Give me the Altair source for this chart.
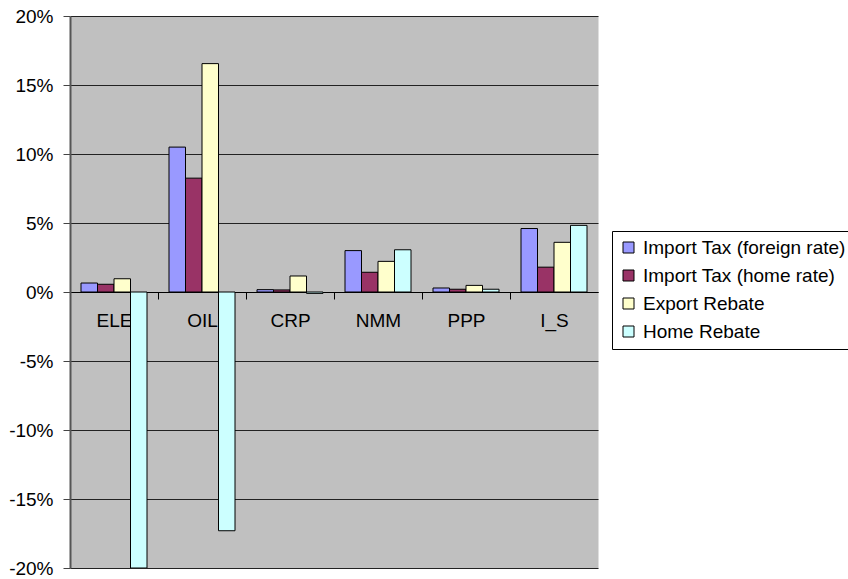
import altair as alt
import pandas as pd

categories = ["ELE", "OIL", "CRP", "NMM", "PPP", "I_S"]
series = ["Import Tax (foreign rate)", "Import Tax (home rate)", "Export Rebate", "Home Rebate"]
colors = ["#9999FF", "#993366", "#FFFFCC", "#CCFFFF"]

import_foreign = [0.0065, 0.105, 0.0017, 0.030, 0.0029, 0.046]
import_home = [0.0056, 0.0825, 0.0015, 0.0143, 0.0020, 0.018]
export_rebate = [0.0096, 0.1655, 0.0116, 0.0222, 0.0048, 0.036]
home_rebate = [-0.20, -0.173, -0.001, 0.0306, 0.0020, 0.0483]

y_ticks = [-0.20, -0.15, -0.10, -0.05, 0.0, 0.05, 0.10, 0.15, 0.20]

rows = []
for s, vals in zip(series, [import_foreign, import_home, export_rebate, home_rebate]):
    for c, v in zip(categories, vals):
        rows.append({"category": c, "series": s, "value": v})
df = pd.DataFrame(rows)

W, H = 528, 552

bars = alt.Chart(df).mark_bar(stroke="black", strokeWidth=1, clip=True).encode(
    x=alt.X(
        "category:N",
        sort=categories,
        title=None,
        scale=alt.Scale(paddingInner=0.25, paddingOuter=0.125),
        axis=alt.Axis(
            orient="bottom",
            offset=-H / 2,
            labelAngle=0,
            labelFontSize=19,
            labelColor="black",
            labelPadding=12,
            tickColor="black",
            tickSize=7,
            tickOffset=-44,
            labelOffset=44,
            domainColor="black",
            domainWidth=1,
            grid=False,
        ),
    ),
    xOffset=alt.XOffset("series:N", sort=series, scale=alt.Scale(paddingInner=0, paddingOuter=0)),
    y=alt.Y(
        "value:Q",
        title=None,
        scale=alt.Scale(domain=[-0.2, 0.2], nice=False),
        axis=alt.Axis(
            values=y_ticks,
            labelExpr="round(datum.value*100) + '%'",
            labelFontSize=19,
            labelColor="black",
            labelPadding=10,
            tickSize=7,
            tickColor="#444444",
            domainColor="#555555",
            domainWidth=2,
            gridColor="#222222",
            gridWidth=1,
        ),
    ),
    color=alt.Color(
        "series:N",
        sort=series,
        scale=alt.Scale(domain=series, range=colors),
        legend=alt.Legend(
            title=None,
            orient="none",
            legendX=542,
            legendY=215,
            symbolType="square",
            symbolSize=121,
            symbolStrokeColor="black",
            symbolStrokeWidth=1,
            symbolOpacity=1,
            labelFontSize=19,
            labelColor="black",
            labelLimit=400,
            labelOffset=5,
            rowPadding=8,
            padding=7,
            strokeColor="black",
            fillColor="white",
        ),
    ),
)

chart = bars.properties(
    width=W,
    height=H,
    autosize=alt.AutoSizeParams(type="none"),
    padding={"left": 70, "top": 16, "right": 250, "bottom": 11},
    background="white",
).configure(
    font="Liberation Sans",
).configure_view(
    fill="#C0C0C0",
    stroke="transparent",
)

chart.save("out.html", embed_options={"renderer": "svg", "actions": False})
